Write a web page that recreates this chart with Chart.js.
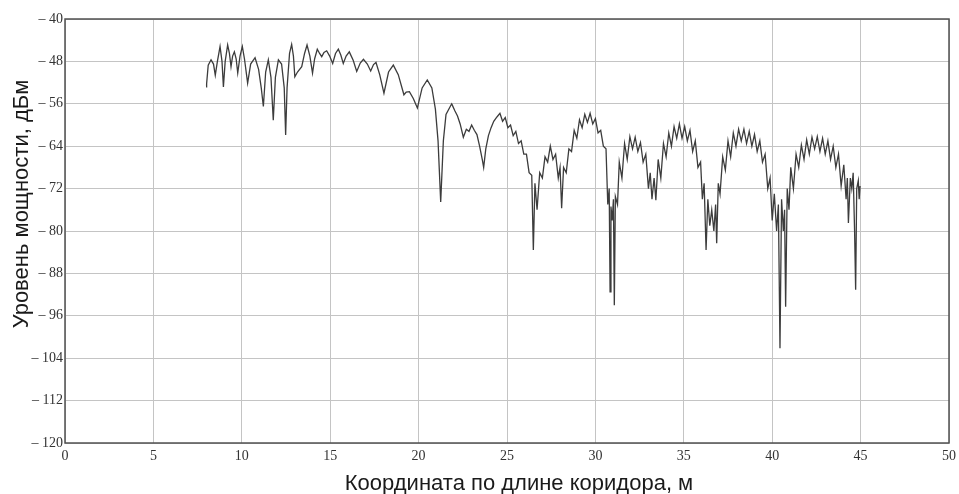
<!DOCTYPE html>
<html>
<head>
<meta charset="utf-8">
<script src="https://cdn.jsdelivr.net/npm/chart.js@4/dist/chart.umd.min.js"></script>
<style>
html,body{margin:0;padding:0;background:#fff;}
#wrap{width:959px;height:494px;position:relative;}
</style>
</head>
<body>
<div id="wrap"><canvas id="c" width="959" height="494"></canvas></div>
<script>
// Axis definitions
const xTickValues = [0,5,10,15,20,25,30,35,40,45,50];
const yTickValues = [-40,-48,-56,-64,-72,-80,-88,-96,-104,-112,-120];
const yTickLabels = ['– 40','– 48','– 56','– 64','– 72','– 80','– 88','– 96','– 104','– 112','– 120'];
const xTitle = 'Координата по длине коридора, м';
const yTitle = 'Уровень мощности, дБм';

// Signal: [coordinate m, level dBm]
const segLeft = [[7.98,-52.8],[8.01,-52.2],[8.1,-48.7],[8.26,-47.7],[8.4,-48.5],[8.5,-50.6],[8.62,-48],[8.77,-45.2],[8.88,-48],[8.96,-52.8],[9.06,-48],[9.2,-44.9],[9.3,-46.5],[9.39,-49],[9.48,-47],[9.58,-46.2],[9.68,-47.5],[9.77,-50.2],[9.9,-47],[10.03,-45.2],[10.15,-47.5],[10.33,-52.1],[10.5,-48.5],[10.75,-47.3],[10.95,-49.5],[11.1,-53],[11.22,-56.5],[11.35,-50],[11.5,-47.7],[11.65,-51],[11.78,-59.1],[11.9,-51],[12.07,-47.7],[12.25,-48.5],[12.4,-53],[12.48,-61.9],[12.56,-53],[12.7,-46.5],[12.82,-44.8],[12.92,-47],[13.0,-50.9],[13.15,-50],[13.39,-49],[13.55,-46.5],[13.69,-44.9],[13.85,-47],[14.0,-50.2],[14.12,-47.5],[14.27,-45.7],[14.4,-46.5],[14.52,-47.1],[14.65,-46.3],[14.8,-46],[14.97,-47],[15.14,-48.4],[15.3,-46.5],[15.46,-45.7],[15.6,-46.8],[15.74,-48.4],[15.9,-47],[16.08,-46.2],[16.3,-47.8],[16.5,-49.9],[16.7,-48.3],[16.88,-47.6],[17.1,-48.5],[17.29,-49.8],[17.45,-48.6],[17.59,-48.2],[17.8,-50.5],[18.04,-54],[18.3,-50],[18.57,-48.7],[18.85,-50.5],[19.17,-54.3],[19.3,-53.8],[19.48,-53.7],[19.7,-55],[19.93,-56.8],[20.2,-53],[20.49,-51.5],[20.75,-53],[20.95,-57],[21.1,-63],[21.25,-74.5],[21.4,-63],[21.55,-58],[21.87,-56]];

const segMid = [[21.9,-56.2],[22.05,-57.3],[22.2,-58.3],[22.35,-59.8],[22.53,-62.3],[22.7,-60.8],[22.85,-61.2],[23.0,-60],[23.15,-61],[23.3,-61.8],[23.45,-64],[23.6,-66.5],[23.68,-68],[23.8,-64.5],[23.95,-62],[24.1,-60.5],[24.25,-59.3],[24.4,-58.6],[24.5,-58.2]];

const segDense = [[24.6,-57.8],[24.75,-59.3],[24.9,-58.6],[25.05,-60.5],[25.2,-60],[25.35,-62],[25.5,-61.2],[25.65,-63.5],[25.8,-63],[25.95,-65.5],[26.1,-65.5],[26.25,-69],[26.4,-69.5],[26.49,-83.6],[26.58,-71],[26.7,-76],[26.85,-69],[27.0,-70],[27.15,-66],[27.3,-67],[27.45,-64],[27.6,-66.5],[27.75,-65.5],[27.9,-70],[28.0,-68],[28.09,-75.7],[28.2,-68],[28.35,-69],[28.5,-64.5],[28.65,-65],[28.8,-61],[28.95,-62.5],[29.1,-59],[29.25,-60.5],[29.4,-58],[29.55,-59.5],[29.7,-57.8],[29.85,-59.8],[30.0,-58.8],[30.15,-61.5],[30.3,-61],[30.45,-64]];

const segRight = [[30.6,-64.5],[30.7,-75],[30.78,-72],[30.83,-91.5],[30.88,-75.4],[30.95,-78],[31.02,-74],[31.07,-94],[31.13,-73.5],[31.25,-75],[31.35,-67],[31.5,-70],[31.65,-63.5],[31.8,-66.5],[31.95,-62.2],[32.1,-64.5],[32.25,-62.3],[32.4,-65],[32.55,-63.3],[32.7,-67],[32.85,-65.5],[33.0,-72],[33.1,-69],[33.2,-74],[33.32,-70],[33.42,-74.2],[33.55,-66.5],[33.7,-70],[33.85,-63.5],[34.0,-66],[34.15,-61.5],[34.3,-64],[34.45,-60.3],[34.6,-62.5],[34.75,-59.8],[34.9,-62.5],[35.05,-60.3],[35.2,-63],[35.35,-61],[35.5,-65],[35.65,-63],[35.8,-68],[35.95,-67],[36.05,-74],[36.15,-71],[36.26,-83.6],[36.36,-74],[36.47,-79],[36.58,-76],[36.7,-80],[36.8,-75],[36.86,-82.3],[36.95,-71],[37.05,-73],[37.2,-66],[37.35,-68.5],[37.5,-63],[37.65,-66],[37.8,-61.5],[37.95,-64],[38.1,-60.8],[38.25,-63],[38.4,-60.8],[38.55,-63.5],[38.7,-61.2],[38.85,-64],[39.0,-61.8],[39.15,-65],[39.3,-63],[39.45,-67],[39.6,-65.5],[39.75,-72],[39.88,-70],[40.0,-78],[40.12,-73],[40.25,-80],[40.35,-75],[40.44,-102.1],[40.53,-74],[40.63,-80],[40.7,-76],[40.76,-94.3],[40.85,-72],[40.95,-76],[41.05,-68],[41.2,-72],[41.35,-65.5],[41.5,-68],[41.65,-63.8],[41.8,-66.5],[41.95,-62.8],[42.1,-65.5],[42.25,-62.3],[42.4,-64.5],[42.55,-62.2],[42.7,-65],[42.85,-62.5],[43.0,-65.5],[43.15,-63],[43.3,-66.5],[43.45,-64],[43.6,-68],[43.75,-65.5],[43.9,-71.5],[44.05,-67.5],[44.18,-74],[44.25,-70],[44.31,-78.5],[44.42,-70],[44.5,-72],[44.58,-69],[44.66,-80],[44.72,-91.1],[44.78,-72],[44.87,-70.5],[44.92,-74],[44.97,-71.5]];

const allPoints = segLeft.concat(segMid, segDense, segRight).map(p => ({x: p[0], y: p[1]}));

const framePlugin = {
  id: 'frameAndTitles',
  afterDraw(chart) {
    const {ctx, chartArea: a} = chart;
    ctx.save();
    ctx.strokeStyle = '#505050';
    ctx.lineWidth = 1.5;
    ctx.strokeRect(a.left, a.top, a.right - a.left, a.bottom - a.top);
    ctx.fillStyle = '#1a1a1a';
    ctx.font = '22px "Liberation Sans", Arial, sans-serif';
    ctx.textAlign = 'center';
    ctx.textBaseline = 'alphabetic';
    ctx.fillText(xTitle, (a.left + a.right) / 2 + 12, 490);
    ctx.translate(28, a.top + 185);
    ctx.rotate(-Math.PI / 2);
    ctx.fillText(yTitle, 0, 0);
    ctx.restore();
  }
};

new Chart(document.getElementById('c'), {
  type: 'scatter',
  data: {
    datasets: [{
      data: allPoints,
      showLine: true,
      borderColor: '#3c3c3c',
      borderWidth: 1.3,
      pointRadius: 0,
      tension: 0
    }]
  },
  options: {
    responsive: false,
    animation: false,
    layout: {padding: {left: 0, right: 10, top: 19, bottom: 0}},
    plugins: {legend: {display: false}, tooltip: {enabled: false}},
    scales: {
      x: {
        type: 'linear', min: 0, max: 50,
        afterFit(s) { s.height = 51; s.paddingRight = 0; s.paddingLeft = 0; },
        afterBuildTicks(s) { s.ticks = xTickValues.map(v => ({value: v})); },
        grid: {color: '#c4c4c4', lineWidth: 1, drawTicks: false},
        border: {display: false},
        ticks: {
          padding: 5, color: '#333', maxRotation: 0, autoSkip: false,
          font: {family: '"Liberation Serif", "Times New Roman", serif', size: 14},
          callback: v => String(v)
        }
      },
      y: {
        type: 'linear', min: -120, max: -40,
        afterFit(s) { s.width = 65; s.paddingTop = 0; s.paddingBottom = 0; },
        afterBuildTicks(s) { s.ticks = yTickValues.map(v => ({value: v})); },
        grid: {color: '#c4c4c4', lineWidth: 1, drawTicks: false},
        border: {display: false},
        ticks: {
          padding: 2, color: '#333', autoSkip: false,
          font: {family: '"Liberation Serif", "Times New Roman", serif', size: 14},
          callback: v => { const i = yTickValues.indexOf(v); return i >= 0 ? yTickLabels[i] : ''; }
        }
      }
    }
  },
  plugins: [framePlugin]
});
</script>
</body>
</html>
